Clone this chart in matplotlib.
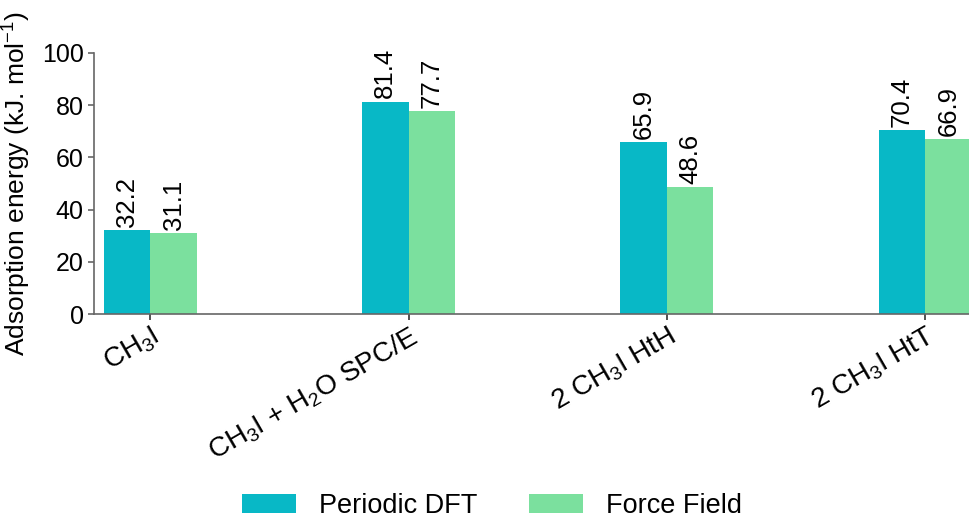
import matplotlib
matplotlib.use("Agg")
import matplotlib.pyplot as plt
import numpy as np

plt.rcParams['font.family'] = ['Liberation Sans', 'DejaVu Sans']
plt.rcParams['mathtext.fontset'] = 'custom'
plt.rcParams['mathtext.rm'] = 'Liberation Sans'
plt.rcParams['mathtext.it'] = 'Liberation Sans:italic'
plt.rcParams['mathtext.bf'] = 'Liberation Sans:bold'

categories = ["CH$_3$I", "CH$_3$I + H$_2$O SPC/E", "2 CH$_3$I HtH", "2 CH$_3$I HtT"]
dft = [32.2, 81.4, 65.9, 70.4]
ff = [31.1, 77.7, 48.6, 66.9]
series_names = ["Periodic DFT", "Force Field"]
colors = ["#08B8C6", "#7BE09E"]

W, H = 969, 518
fig = plt.figure(figsize=(W/100, H/100), dpi=100)
ax = fig.add_axes([94/W, (H-314)/H, (W-94)/W, (314-53)/H])

x = np.arange(len(categories))
w = 0.18
b1 = ax.bar(x - w/2, dft, w, color=colors[0], label=series_names[0])
b2 = ax.bar(x + w/2, ff, w, color=colors[1], label=series_names[1])
for bars, vals in ((b1, dft), (b2, ff)):
    for r, v in zip(bars, vals):
        ax.text(r.get_x() + r.get_width()/2, v + 1.2, f"{v:.1f}", rotation=90,
                ha='center', va='bottom', fontsize=18.5)

ax.set_xlim(-0.218, 3.17)
ax.set_ylim(0, 100)
ax.set_yticks([0, 20, 40, 60, 80, 100])
ax.set_xticks(x)
ax.set_xticklabels(categories, rotation=30, ha='right', rotation_mode='anchor', fontsize=20)
ax.tick_params(axis='y', labelsize=18, length=4, color='#666666', width=1.2)
ax.tick_params(axis='x', length=4, color='#333333', width=1.2, pad=2.5)
ax.set_ylabel("Adsorption energy (kJ. mol$^{-1}$)", fontsize=19, labelpad=6)
for s in ('top', 'right'):
    ax.spines[s].set_visible(False)
for s in ('left', 'bottom'):
    ax.spines[s].set_color('#666666')
    ax.spines[s].set_linewidth(1.2)

fig.legend(handles=[b1, b2], loc='center', bbox_to_anchor=(0.508, 1-506/H), ncol=2,
           frameon=False, fontsize=19.5, handlelength=2.0, handleheight=0.7,
           columnspacing=1.9, handletextpad=0.85)

fig.savefig("out.png", dpi=100)
